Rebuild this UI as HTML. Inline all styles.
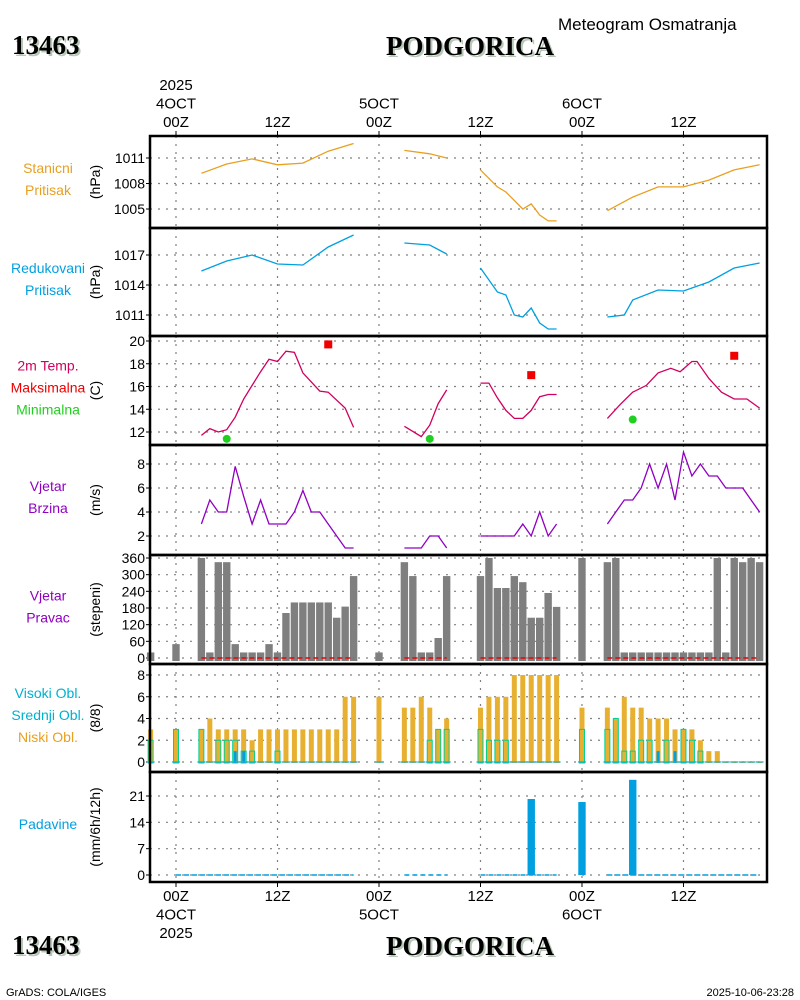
<!DOCTYPE html>
<html><head><meta charset="utf-8"><style>
html,body{margin:0;padding:0;background:#fff;}
svg{display:block;font-family:"Liberation Sans",sans-serif;}
</style></head><body>
<svg id="chart" width="800" height="1000" viewBox="0 0 800 1000" xmlns="http://www.w3.org/2000/svg"></svg>
<script>
// ---- data (hours from 4OCT 00Z) ----
const spH = [3,6,9,12,15,18,21, null, 27,30,32, null, 36,38,39,41,42,43,44,45, null, 51,54,57,60,63,66,69];
const spV = [1009.2,1010.3,1010.9,1010.2,1010.4,1011.8,1012.7, null, 1011.9,1011.5,1011.0, null, 1009.6,1007.6,1007.0,1005.0,1005.6,1004.3,1003.6,1003.6, null, 1004.8,1006.4,1007.6,1007.6,1008.4,1009.6,1010.2];
const rpH = [3,6,9,12,15,18,21, null, 27,30,32, null, 36,38,39,40,41,42,43,44,45, null, 51,53,54,57,60,63,66,69];
const rpV = [1015.4,1016.4,1017.0,1016.1,1016.0,1017.8,1019.0, null, 1018.2,1018.0,1017.1, null, 1015.7,1013.3,1013.0,1011.0,1010.8,1011.7,1010.2,1009.6,1009.6, null, 1010.8,1011.0,1012.5,1013.5,1013.4,1014.3,1015.7,1016.2];
const tH = [3,4,5,6,7,8,9,10,11,12,13,14,15,17,18,20,21, null, 27,29,30,31,32, null, 36,37,38,39,40,41,42,43,44,45, null, 51,52.5,54,55.6,57,58.5,59.6,61,61.6,63,64.5,66,67.5,69];
const tV = [11.7,12.3,12.0,12.2,13.3,14.9,16.1,17.3,18.4,18.2,19.1,19.0,17.2,15.6,15.5,14.1,12.4, null, 12.5,11.6,12.6,14.5,15.7, null, 16.3,16.3,15.0,13.9,13.2,13.2,13.9,15.1,15.3,15.3, null, 13.2,14.4,15.5,16.1,17.2,17.6,17.3,18.2,18.2,16.7,15.5,14.9,14.9,14.1];
const tmaxH = [18,42,66];
const tmaxV = [19.7,17.0,18.7];
const tminH = [6,30,54];
const tminV = [11.4,11.4,13.1];
const wsH = [3,4,5,6,7,8,9,10,11,12,13,14,15,16,17,18,19,20,21, null, 27,28,29,30,31,32, null, 36,37,38,39,40,41,42,43,44,45, null, 51,52,53,54,55,56,57,58,59,60,61,62,63,64,65,66,67,68,69];
const wsV = [3,5,4,4,7.8,5.3,3,5,3,3,3,4,5.8,4,4,3,2,1,1, null, 1,1,1,2,2,1, null, 2,2,2,2,2,3,2,4,2,3, null, 3,4,5,5,6,8,6,8,5,9,7,8,7,7,6,6,6,5,4];
const wdH = [-3,0,3,4,5,6,7,8,9,10,11,12,13,14,15,16,17,18,19,20,21,24,27,28,29,30,31,32,36,37,38,39,40,41,42,43,44,45,48,51,52,53,54,55,56,57,58,59,60,61,62,63,64,65,66,67,68,69];
const wdV = [20,50,360,20,345,345,50,20,20,20,50,20,162,200,200,200,200,200,145,185,295,20,345,295,20,20,72,295,295,360,252,252,295,273,145,145,234,184,360,345,360,20,20,20,20,20,20,20,20,20,20,20,360,20,360,345,360,345];
const clH = [-3,0,3,4,5,6,7,8,9,10,11,12,13,14,15,16,17,18,19,20,21,24,27,28,29,30,31,32,36,37,38,39,40,41,42,43,44,45,48,51,52,53,54,55,56,57,58,59,60,61,62,63,64,65,66,67,68,69];
const clLow = [3,3,3,4,3,3,3,3,2,3,3,3,3,3,3,3,3,3,3,6,6,6,5,5,6,5,3,4,5,6,6,6,8,8,8,8,8,8,5,5,4,6,5,5,4,4,4,3,3,3,2,1,1,0,0,0,0,0];
const clMid = [2,3,3,0,2,2,2,1,1,0,0,1,0,0,0,0,0,0,0,0,0,0,0,0,0,2,3,3,3,2,2,2,0,0,0,0,0,0,3,3,4,1,1,2,2,0,2,0,3,2,1,0,0,0,0,0,0,0];
const clHigh = [0,0,0,0,0,0,1,1,0,0,0,0,0,0,0,0,0,0,0,0,0,0,0,0,0,0,0,0,0,0,0,0,0,0,0,0,0,0,0,0,0,0,0,0,0,1,0,1,0,0,0,0,0,0,0,0,0,0];
const prH = [42,48,54];
const prV = [20.2,19.4,25.3];

// ---- axes ----
const X0 = 176, PXH = 8.458;
function xs(h){ return X0 + h*PXH; }
const LEFT = 150, RIGHT = 767;
const panels = [
  {key:'sp', top:136, bot:228, v0:1011, y0:158, ppu:8.5, ticks:[1011,1008,1005], label:['Stanicni','Pritisak'], lc:['#e8a020','#e8a020'], unit:'(hPa)'},
  {key:'rp', top:228, bot:336, v0:1017, y0:255, ppu:10, ticks:[1017,1014,1011], label:['Redukovani','Pritisak'], lc:['#00a0e0','#00a0e0'], unit:'(hPa)'},
  {key:'t', top:336, bot:445, v0:20, y0:341, ppu:11.375, ticks:[20,18,16,14,12], label:['2m Temp.','Maksimalna','Minimalna'], lc:['#d00060','#f00000','#20d020'], unit:'(C)'},
  {key:'ws', top:445, bot:555, v0:8, y0:464, ppu:12, ticks:[8,6,4,2], label:['Vjetar','Brzina'], lc:['#9000c0','#9000c0'], unit:'(m/s)'},
  {key:'wd', top:555, bot:664, v0:360, y0:558, ppu:100/360, ticks:[360,300,240,180,120,60,0], label:['Vjetar','Pravac'], lc:['#9000c0','#9000c0'], unit:'(stepeni)'},
  {key:'cl', top:664, bot:772, v0:8, y0:675, ppu:10.875, ticks:[8,6,4,2,0], label:['Visoki Obl.','Srednji Obl.','Niski Obl.'], lc:['#00b0d0','#00b0d0','#e8a020'], unit:'(8/8)'},
  {key:'pr', top:772, bot:882, v0:21, y0:796, ppu:3.762, ticks:[21,14,7,0], label:['Padavine'], lc:['#00a0e0'], unit:'(mm/6h/12h)'}
];
function ys(p,v){ return p.y0 + (p.v0 - v)*p.ppu; }

const NS='http://www.w3.org/2000/svg';
const svg=document.getElementById('chart');
function mk(tag, attrs, parent){
  const e=document.createElementNS(NS,tag);
  for(const k in attrs) e.setAttribute(k,attrs[k]);
  (parent||svg).appendChild(e); return e;
}
function txt(x,y,s,opts,parent){
  const e=mk('text',Object.assign({x:x,y:y,'font-size':14,fill:'#000'},opts||{}),parent);
  e.textContent=s; return e;
}

function title(x,y,s,size,name){
  const g=mk('g',{});
  
  
  txt(x+2,y+2,s,{'font-size':size,'font-family':'Liberation Serif,serif','font-weight':'bold',fill:'#b8c8b8'},g);
  txt(x,y,s,{'font-size':size,'font-family':'Liberation Serif,serif','font-weight':'bold'},g);
}
title(12,54,'13463',27,'station-id-top');
title(386,55,'PODGORICA',27,'station-name-top');
title(12,954,'13463',27,'station-id-bottom');
title(386,955,'PODGORICA',27,'station-name-bottom');
let t=txt(558,30,'Meteogram Osmatranja',{'font-size':17});


t=txt(6,996,'GrADS: COLA/IGES',{'font-size':11});


t=txt(794,996,'2025-10-06-23:28',{'font-size':11,'text-anchor':'end'});



const topLbl=[[0,['2025','4OCT','00Z']],[12,['12Z']],[24,['5OCT','00Z']],[36,['12Z']],[48,['6OCT','00Z']],[60,['12Z']]];
topLbl.forEach(d=>{
  const n=d[1].length;
  d[1].forEach((s,i)=>{
    const e=txt(xs(d[0]),127-(n-1-i)*18.5,s,{'font-size':15,'text-anchor':'middle'});
    
    
  });
});
const botLbl=[[0,['00Z','4OCT','2025']],[12,['12Z']],[24,['00Z','5OCT']],[36,['12Z']],[48,['00Z','6OCT']],[60,['12Z']]];
botLbl.forEach(d=>{
  d[1].forEach((s,i)=>{
    const e=txt(xs(d[0]),901+i*18.5,s,{'font-size':15,'text-anchor':'middle'});
    
    
  });
});

function linePath(H,V,p){
  let d='',pen=false;
  for(let i=0;i<H.length;i++){
    if(H[i]===null){pen=false;continue;}
    d+=(pen?'L':'M')+xs(H[i]).toFixed(1)+' '+ys(p,V[i]).toFixed(1)+' ';
    pen=true;
  }
  return d;
}

panels.forEach(p=>{
  const g=mk('g',{});
  
  
  for(let h=0;h<=60;h+=12){
    const e=mk('line',{x1:xs(h),x2:xs(h),y1:p.top,y2:p.bot,stroke:'#808080','stroke-width':1.2,'stroke-dasharray':'2 6'},g);
    
    
  }
  p.ticks.forEach(v=>{
    const y=ys(p,v);
    const e=mk('line',{x1:LEFT,x2:RIGHT,y1:y,y2:y,stroke:'#808080','stroke-width':1.2,'stroke-dasharray':'2 6'},g);
    
    
    mk('line',{x1:LEFT-4,x2:LEFT,y1:y,y2:y,stroke:'#000'},g);
    const tl=txt(LEFT-5,y+5,String(v),{'font-size':14,'text-anchor':'end'},g);
    
    
  });
  const cy=(p.top+p.bot)/2;
  const ut=txt(100,cy,p.unit,{'font-size':14,'text-anchor':'middle',transform:'rotate(-90 100 '+cy+')'},g);
  
  
  const n=p.label.length;
  p.label.forEach((s,i)=>{
    const ly=cy-(n-1)*11+i*22+2;
    const l=txt(48,ly,s,{'font-size':14,'text-anchor':'middle',fill:p.lc[i]},g);
    
    
  });
});

const P={}; panels.forEach(p=>P[p.key]=p);
function addPath(d,color,name,w){
  const e=mk('path',{d:d,fill:'none',stroke:color,'stroke-width':w||1.3});
  
  
}
addPath(linePath(spH,spV,P.sp),'#e8a020','station-pressure-line');
addPath(linePath(rpH,rpV,P.rp),'#00a0e0','reduced-pressure-line');
addPath(linePath(tH,tV,P.t),'#d00060','temperature-line');
tmaxH.forEach((h,i)=>{
  const e=mk('rect',{x:xs(h)-4,y:ys(P.t,tmaxV[i])-4,width:8,height:8,fill:'#f00000'});
  
  
});
tminH.forEach((h,i)=>{
  const e=mk('circle',{cx:xs(h),cy:ys(P.t,tminV[i]),r:4,fill:'#20d020'});
  
  
});
addPath(linePath(wsH,wsV,P.ws),'#9000c0','wind-speed-line');

wdH.forEach((h,i)=>{
  const y=ys(P.wd,wdV[i]), y0=ys(P.wd,0)+3;
  const e=mk('rect',{x:xs(h)-3.7,y:y,width:7.4,height:y0-y,fill:'#7f7f7f'});
  
  
});
[[3,21],[27,32],[36,45],[51,69]].forEach(s=>{
  const y=ys(P.wd,0);
  const e=mk('line',{x1:xs(s[0]),x2:xs(s[1]),y1:y,y2:y,stroke:'#f00000','stroke-width':1.5,'stroke-dasharray':'5 3'});
  
  
});

clH.forEach((h,i)=>{
  const x=xs(h), yb=ys(P.cl,0);
  const yl=ys(P.cl,clLow[i]);
  let e=mk('rect',{x:x-2.5,y:yl,width:5,height:yb-yl+1,fill:'#e8b030'});
  
  
  if(clMid[i]>0){
    const ym=ys(P.cl,clMid[i]);
    e=mk('rect',{x:x-2.5,y:ym,width:5,height:yb-ym+1,fill:'none',stroke:'#00d090','stroke-width':1});
    
    
  }
  if(clHigh[i]>0){
    const yh=ys(P.cl,clHigh[i]);
    e=mk('rect',{x:x-1.5,y:yh,width:3,height:yb-yh+1,fill:'#00a0e0'});
    
    
  }
  e=mk('line',{x1:x-4,x2:x+4,y1:yb,y2:yb,stroke:'#20b0c0','stroke-width':1.3});
  
  
});

[[0,21],[27,32],[36,45],[51,69]].forEach(s=>{
  const y=ys(P.pr,0);
  const e=mk('line',{x1:xs(s[0]),x2:xs(s[1]),y1:y,y2:y,stroke:'#00a0e0','stroke-width':1.5,'stroke-dasharray':'5 3'});
  
  
});
prH.forEach((h,i)=>{
  const y=ys(P.pr,prV[i]), y0=ys(P.pr,0);
  const e=mk('rect',{x:xs(h)-3.7,y:y,width:7.4,height:y0-y,fill:'#00a0e0'});
  
  
});

panels.forEach(p=>{
  const e=mk('rect',{x:LEFT,y:p.top,width:RIGHT-LEFT,height:p.bot-p.top,fill:'none',stroke:'#000','stroke-width':2.5});
  
  
});
for(let h=0;h<=60;h+=12){
  mk('line',{x1:xs(h),x2:xs(h),y1:131,y2:136,stroke:'#000'});
  mk('line',{x1:xs(h),x2:xs(h),y1:882,y2:887,stroke:'#000'});
}
</script>
</body></html>
